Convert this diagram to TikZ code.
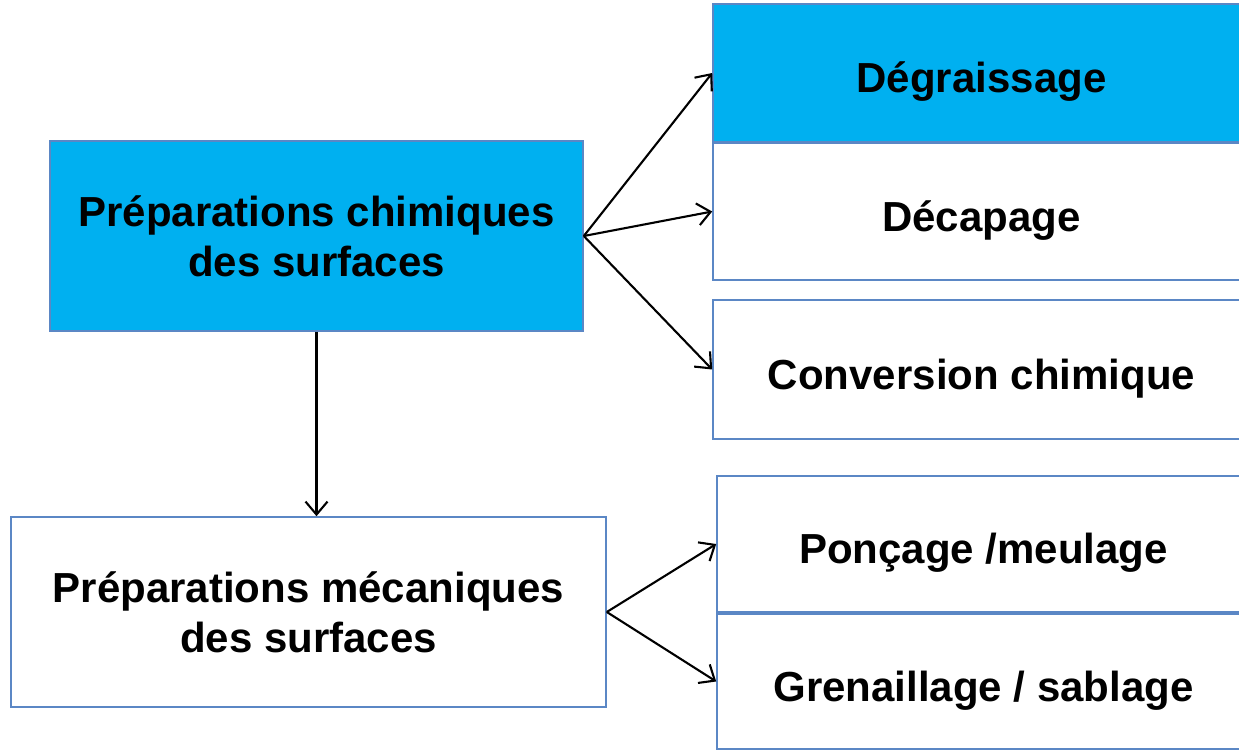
\documentclass[tikz,border=0pt]{standalone}
\usepackage{fontspec}
\setmainfont{Liberation Sans}
\usetikzlibrary{arrows.meta}
\definecolor{boxblue}{HTML}{00B0F0}
\definecolor{edgeblue}{HTML}{5B87C5}
\tikzset{
  box/.style={draw=edgeblue, line width=1.6pt, rectangle, inner sep=0pt, align=center,
    font=\fontsize{42}{50}\selectfont\bfseries, text=black},
  single/.style={text height=39pt, text depth=0pt},
  bluebox/.style={box, fill=boxblue},
  whitebox/.style={box, fill=white},
  conn/.style={line width=2.1pt, black, -{Straight Barb[length=13pt,width=22pt,line width=2.1pt]}}
}
\begin{document}
\begin{tikzpicture}[x=1pt,y=-1pt]
\useasboundingbox[fill=white] (0,0) rectangle (1239,750);
\node[bluebox, minimum width=533pt, minimum height=190pt] (chem) at (316.5,236) {Préparations chimiques\\des surfaces};
\node[whitebox, minimum width=595pt, minimum height=190pt] (meca) at (308.5,612) {Préparations mécaniques\\des surfaces};
\node[bluebox, single, minimum width=537pt, minimum height=138pt] (degr) at (981.5,73) {Dégraissage};
\node[whitebox, single, minimum width=537pt, minimum height=137pt] (deca) at (981.5,211.5) {Décapage};
\node[whitebox, single, minimum width=537pt, minimum height=139pt] (conv) at (981.5,369.5) {Conversion chimique};
\node[whitebox, single, minimum width=533pt, minimum height=136pt] (ponc) at (983.5,544) {Ponçage /meulage};
\node[whitebox, single, minimum width=533pt, minimum height=135pt] (gren) at (983.5,681.5) {Grenaillage / sablage};
\draw[conn] (chem.east) -- (degr.west);
\draw[conn] (chem.east) -- (deca.west);
\draw[conn] (chem.east) -- (conv.west);
\draw[conn] (chem.south) -- (chem.south |- meca.north);
\draw[conn] (meca.east) -- (ponc.west);
\draw[conn] (meca.east) -- (gren.west);
\end{tikzpicture}
\end{document}
